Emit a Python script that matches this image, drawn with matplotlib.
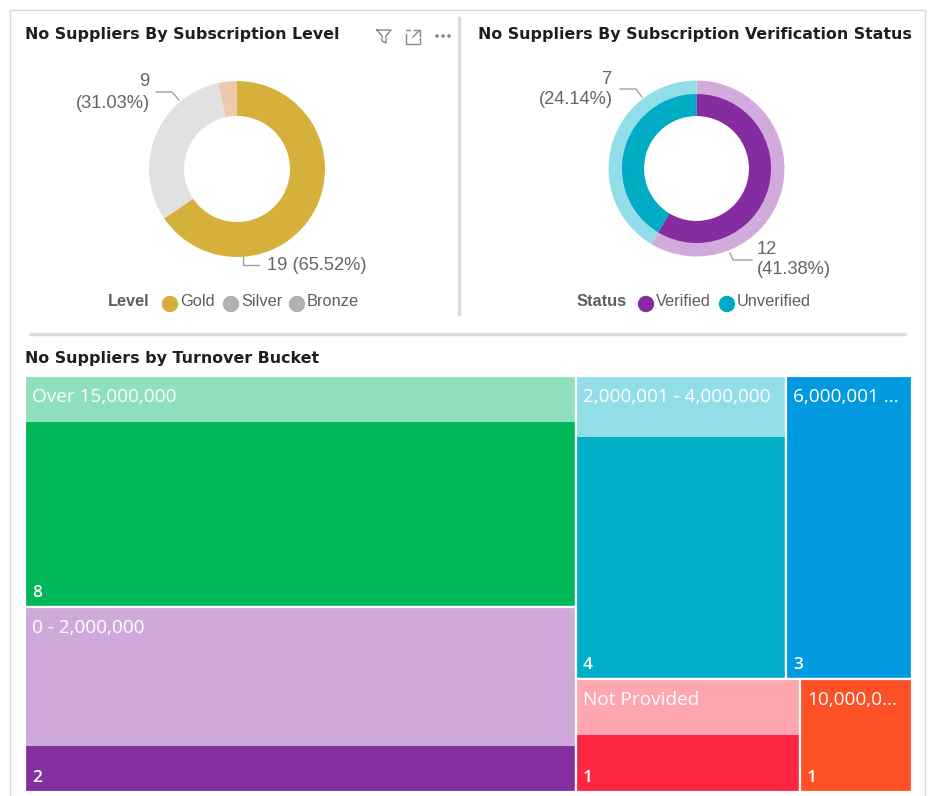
import matplotlib
matplotlib.use("Agg")
import matplotlib.pyplot as plt
from matplotlib.patches import Rectangle, Circle
from matplotlib.lines import Line2D

# ---------------- data ----------------
level_names = ["Gold", "Silver", "Bronze"]
level_counts = [19, 9, 1]
level_colors = ["#D5B13B", "#E1E1E1", "#EDC9AE"]
level_legend_colors = ["#D5B13B", "#B4B2B0", "#B4B2B0"]

status_names = ["Verified", "Unverified"]
status_totals = [17, 12]
status_highlight = [12, 7]
status_light = ["#D2AADB", "#92DEE8"]
status_dark = ["#852CA0", "#00ACC3"]

bucket_labels = ["Over 15,000,000", "0 - 2,000,000", "2,000,001 - 4,000,000",
                 "6,000,001 ...", "Not Provided", "10,000,0..."]
bucket_totals = [10, 8, 5, 3, 2, 1]
bucket_highlight = [8, 2, 4, 3, 1, 1]
bucket_light = ["#8FE0BD", "#CFA9D9", "#92DEE8", "#0199E0", "#FEA7AF", "#FE5026"]
bucket_dark = ["#00B75A", "#842FA0", "#00AEC7", "#0199E0", "#FC2740", "#FE5026"]
bucket_groups = [[0, 1], [2, 3], [4, 5]]   # first group stacked as a column, others as rows

W, H = 930, 796
fig = plt.figure(figsize=(W / 100, H / 100), dpi=100)
fig.patch.set_facecolor("white")

LABEL_FONT = ["Liberation Sans", "DejaVu Sans"]
TILE_FONT = ["Open Sans", "DejaVu Sans"]
TITLE_FONT = ["DejaVu Sans"]
GRAY = "#666666"


def px_axes(x0, y0, w, h):
    return fig.add_axes([x0 / W, 1 - (y0 + h) / H, w / W, h / H])


# background axes in pixel coordinates
bg = fig.add_axes([0, 0, 1, 1])
bg.set_xlim(0, W)
bg.set_ylim(H, 0)
bg.axis("off")

# frame and separators
bg.add_patch(Rectangle((10, 10), 915, 800, fill=False, ec="#D9D9D9", lw=1))
bg.add_line(Line2D([459, 459], [18, 314], color="#DCDCDC", lw=2.5))
bg.add_line(Line2D([31, 905], [334, 334], color="#DCDCDC", lw=2.5))

# titles
for (tx, ty, txt) in [(25, 35, "No Suppliers By Subscription Level"),
                      (478, 35, "No Suppliers By Subscription Verification Status"),
                      (25, 358, "No Suppliers by Turnover Bucket")]:
    bg.text(tx, ty, txt, fontsize=11.4, fontweight="bold", color="#201F1E",
            va="center", ha="left", family=TITLE_FONT)

# header icons (filter, focus, more)
ic = "#8A8886"
bg.add_line(Line2D([377, 391, 386, 386, 382, 382, 377], [30, 30, 36, 43, 41, 36, 30],
                   color=ic, lw=1))
bg.add_line(Line2D([406, 406, 420, 420], [34, 44, 44, 38], color=ic, lw=1))
bg.add_line(Line2D([406, 410], [30, 30], color=ic, lw=1))
bg.add_line(Line2D([414, 420, 420], [30, 30, 36], color=ic, lw=1))
bg.add_line(Line2D([413, 419], [37, 31], color=ic, lw=1))
for dx in (437, 443, 449):
    bg.add_patch(Circle((dx, 36), 1.1, color=ic))

# ---------------- donut 1 ----------------
R = 110.0
ax1 = px_axes(237 - R, 169 - R, 2 * R, 2 * R)
ax1.pie(level_counts, colors=level_colors, startangle=90, counterclock=False,
        radius=88 / R, wedgeprops=dict(width=35 / R, linewidth=0))
ax1.set_xlim(-1, 1)
ax1.set_ylim(-1, 1)
ax1.set_aspect("equal")
ax1.axis("off")

LS = 13.2
tot1 = sum(level_counts)
pct = [100 * v / tot1 for v in level_counts]
bg.text(149, 82, f"{level_counts[1]}", fontsize=LS, color=GRAY, ha="right", va="center",
        family=LABEL_FONT)
bg.text(150, 103, f"({pct[1]:.2f}%)", fontsize=LS, color=GRAY, ha="right", va="center",
        family=LABEL_FONT)
bg.add_line(Line2D([156, 172, 179], [92, 92, 100], color="#A0A0A0", lw=1))
bg.text(267, 266, f"{level_counts[0]} ({pct[0]:.2f}%)", fontsize=LS, color=GRAY,
        ha="left", va="center", family=LABEL_FONT)
bg.add_line(Line2D([243, 243, 259], [257, 265, 265], color="#A0A0A0", lw=1))

# legend 1
LG = 11.8
bg.text(108, 302, "Level", fontsize=LG, fontweight="bold", color="#605E5C",
        ha="left", va="center", family=LABEL_FONT)
lx = [170, 231, 297]
for x, name, col in zip(lx, level_names, level_legend_colors):
    bg.add_patch(Circle((x, 304), 7.5, color=col))
    bg.text(x + 10, 302, name, fontsize=LG, color="#605E5C", ha="left", va="center",
            family=LABEL_FONT)

# ---------------- donut 2 ----------------
ax2 = px_axes(696.5 - R, 168.5 - R, 2 * R, 2 * R)
ax2.pie(status_totals, colors=status_light, startangle=90, counterclock=False,
        radius=88 / R, wedgeprops=dict(width=35.5 / R, linewidth=0))
ax2.pie(status_totals, colors=status_dark, startangle=90, counterclock=False,
        radius=74.5 / R, wedgeprops=dict(width=22 / R, linewidth=0))
ax2.set_xlim(-1, 1)
ax2.set_ylim(-1, 1)
ax2.set_aspect("equal")
ax2.axis("off")

tot2 = sum(status_totals)
pct2 = [100 * v / tot2 for v in status_highlight]
bg.text(612, 79, f"{status_highlight[1]}", fontsize=LS, color=GRAY, ha="right",
        va="center", family=LABEL_FONT)
bg.text(613, 100, f"({pct2[1]:.2f}%)", fontsize=LS, color=GRAY, ha="right", va="center",
        family=LABEL_FONT)
bg.add_line(Line2D([620, 636, 642], [89, 89, 97], color="#A0A0A0", lw=1))
bg.text(757, 250, f"{status_highlight[0]}", fontsize=LS, color=GRAY, ha="left",
        va="center", family=LABEL_FONT)
bg.text(757, 270, f"({pct2[0]:.2f}%)", fontsize=LS, color=GRAY, ha="left", va="center",
        family=LABEL_FONT)
bg.add_line(Line2D([730, 733, 752], [253, 260, 260], color="#A0A0A0", lw=1))

# legend 2
bg.text(577, 302, "Status", fontsize=LG, fontweight="bold", color="#605E5C",
        ha="left", va="center", family=LABEL_FONT)
for x, name, col in zip([646, 727], status_names, status_dark):
    bg.add_patch(Circle((x, 304), 7.5, color=col))
    bg.text(x + 10, 302, name, fontsize=LG, color="#605E5C", ha="left", va="center",
            family=LABEL_FONT)

# ---------------- treemap ----------------
TX0, TY0, TW, TH = 25, 376, 887, 416
axt = px_axes(TX0, TY0, TW, TH)
axt.set_xlim(0, TW)
axt.set_ylim(TH, 0)
axt.axis("off")

total = sum(bucket_totals)
rects = {}
first = bucket_groups[0]
col_w = TW * sum(bucket_totals[i] for i in first) / total
y = 0.0
for i in first:
    h = TH * bucket_totals[i] / sum(bucket_totals[j] for j in first)
    rects[i] = (0.0, y, col_w, h)
    y += h
rest = bucket_groups[1:]
rest_total = sum(bucket_totals[i] for g in rest for i in g)
y = 0.0
for g in rest:
    gsum = sum(bucket_totals[i] for i in g)
    h = TH * gsum / rest_total
    x = col_w
    for i in g:
        w = (TW - col_w) * bucket_totals[i] / gsum
        rects[i] = (x, y, w, h)
        x += w
    y += h

for i, (x, y, w, h) in rects.items():
    axt.add_patch(Rectangle((x, y), w, h, fc=bucket_light[i], ec="none"))
    hh = h * bucket_highlight[i] / bucket_totals[i]
    axt.add_patch(Rectangle((x, y + h - hh), w, hh, fc=bucket_dark[i], ec="none"))
    axt.add_patch(Rectangle((x, y), w, h, fill=False, ec="white", lw=1.6))
    axt.text(x + 7, y + 21, bucket_labels[i], fontsize=13.7, color="white",
             ha="left", va="center", family=TILE_FONT)
    axt.text(x + 7, y + h - 14, f"{bucket_highlight[i]}", fontsize=12.5, color="white",
             fontweight="semibold", ha="left", va="center", family=TILE_FONT)

fig.savefig("out.png", dpi=100)
